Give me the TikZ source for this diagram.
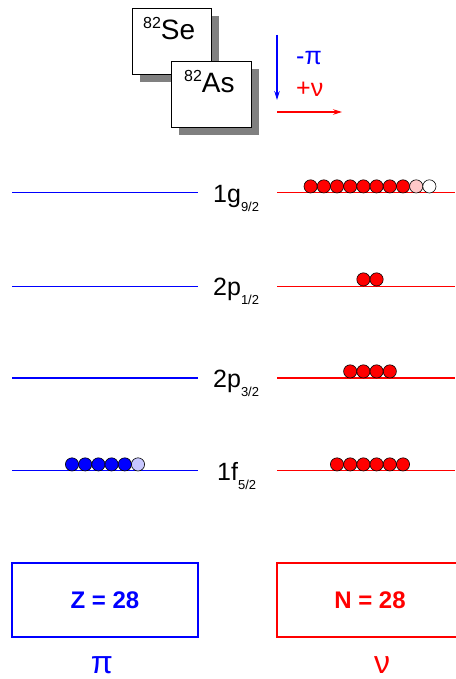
\documentclass[tikz,border=0pt]{standalone}
\usepackage{fontspec}
\setmainfont{Liberation Sans}
\usetikzlibrary{arrows.meta}
\definecolor{pinkc}{HTML}{FFC8C8}
\definecolor{lblue}{HTML}{C8C8FF}
\definecolor{shadowc}{HTML}{808080}
\definecolor{pblue}{HTML}{0000FF}
\definecolor{nred}{HTML}{FF0000}
\begin{document}
\begin{tikzpicture}[x=1pt,y=-1pt,
  elem/.style={draw=black,line width=0.9pt,fill=white},
  shad/.style={fill=shadowc,draw=none},
  plevel/.style={draw=pblue,line width=1.1pt},
  nlevel/.style={draw=nred,line width=1.1pt},
  nuc/.style={circle,draw=black,line width=0.6pt,minimum size=13.2pt,inner sep=0pt},
  lab/.style={anchor=base west,inner sep=0pt,text=black,font=\fontsize{25}{25}\selectfont},
  magic/.style={line width=1.1pt,minimum width=186pt,minimum height=74pt,inner sep=0pt}]
\useasboundingbox (0,0) rectangle (455,679);
% ---- geometry first ----
\fill[shad] (140,16) rectangle (219,82);
\node[elem,anchor=north west,minimum width=79pt,minimum height=66pt,inner sep=0pt] (se) at (132,8) {};
\fill[shad] (179,69) rectangle (259,135);
\node[elem,anchor=north west,minimum width=80pt,minimum height=66pt,inner sep=0pt] (as) at (171,61) {};
\coordinate (b1) at (277,35); \coordinate (b2) at (277,100);
\draw[draw=pblue,fill=pblue,line width=1.1pt,-{Stealth[length=9pt,width=5.5pt]}] (b1) -- (b2);
\coordinate (r1) at (277,112); \coordinate (r2) at (342,112);
\draw[draw=nred,fill=nred,line width=1.1pt,-{Stealth[length=9pt,width=5.5pt]}] (r1) -- (r2);
\foreach \yy/\ww in {192.5/1.1pt,286/1pt,378/1.1pt,470.5/1.1pt}{
  \draw[plevel,line width=\ww] (12,\yy) -- (198,\yy);
  \draw[nlevel,line width=\ww] (277,\yy) -- (455,\yy);
}
\node[magic,draw=pblue] (zb) at (105,600) {};
\node[magic,draw=nred] (nb) at (370,600) {};
% neutrons
\foreach \i in {0,...,7}{\node[nuc,fill=nred] at ({370-13.2*4.5+13.2*\i},186.4) {};}
\node[nuc,fill=pinkc] at ({370+13.2*3.5},186.4) {};
\node[nuc,fill=white] at ({370+13.2*4.5},186.4) {};
\foreach \i in {0,1}{\node[nuc,fill=nred] at ({370-13.2*0.5+13.2*\i},279.4) {};}
\foreach \i in {0,...,3}{\node[nuc,fill=nred] at ({370-13.2*1.5+13.2*\i},371.4) {};}
\foreach \i in {0,...,5}{\node[nuc,fill=nred] at ({370-13.2*2.5+13.2*\i},464.4) {};}
% protons
\foreach \i in {0,...,4}{\node[nuc,fill=pblue] at ({105-13.2*2.5+13.2*\i},464.4) {};}
\node[nuc,fill=lblue] at ({105+13.2*2.5},464.4) {};
% ---- texts ----
\node[anchor=base west,inner sep=0pt,font=\fontsize{28}{28}\selectfont] (set) at (143,40) {\raisebox{11pt}{\fontsize{16}{16}\selectfont 82}Se};
\node[anchor=base west,inner sep=0pt,font=\fontsize{28}{28}\selectfont] (ast) at (184,93) {\raisebox{11pt}{\fontsize{16}{16}\selectfont 82}As};
\foreach \yy/\aa/\bb/\xx in {193/1g/9\slash 2/213, 286/2p/1\slash 2/213, 378/2p/3\slash 2/213, 471/1f/5\slash 2/217}{
  \node[lab] at (\xx,\yy+9) {\aa\raisebox{-9pt}{\fontsize{13}{13}\selectfont \bb}};
}
\node[anchor=base west,inner sep=0pt,text=pblue,font=\fontsize{25}{25}\selectfont] (mp) at (296,65) {-π};
\node[anchor=base west,inner sep=0pt,text=nred,font=\fontsize{25}{25}\selectfont] (pn) at (296,97) {+ν};
\node[text=pblue,font=\fontsize{24}{24}\selectfont\bfseries] (zt) at (zb) {Z = 28};
\node[text=nred,font=\fontsize{24}{24}\selectfont\bfseries] (nt) at (nb) {N = 28};
\node[text=pblue,font=\fontsize{32}{32}\selectfont,inner sep=0pt] (pi) at (102,665) {π};
\node[text=nred,font=\fontsize{32}{32}\selectfont,inner sep=0pt] (nu) at (382,665) {ν};
\end{tikzpicture}
\end{document}
